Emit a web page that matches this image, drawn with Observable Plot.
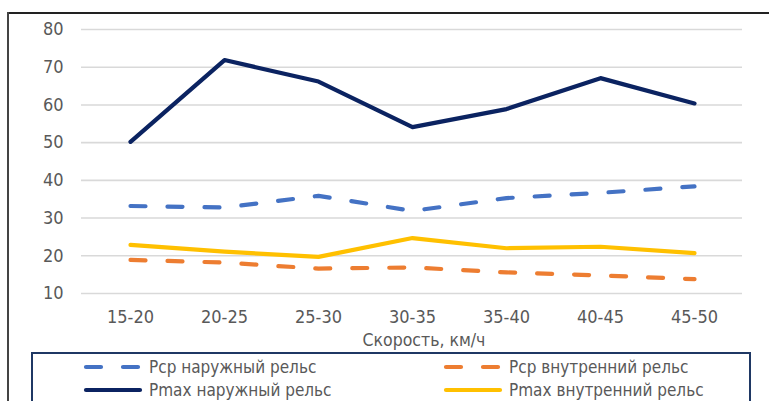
<!DOCTYPE html>
<html><head><meta charset="utf-8">
<script src="https://cdn.jsdelivr.net/npm/d3@7"></script>
<script src="https://cdn.jsdelivr.net/npm/@observablehq/plot@0.6"></script>
<style>
html,body{margin:0;padding:0;background:#fff;}
#wrap{position:relative;width:769px;height:401px;overflow:hidden;font-family:"Liberation Sans Narrow","DejaVu Sans Condensed",Roboto,sans-serif;color:#595959;}
#chart{position:absolute;left:0;top:0;}
.frameT{position:absolute;left:8px;top:12px;width:761px;height:2px;background:#222;}
.frameL{position:absolute;left:7px;top:12px;width:2px;height:389px;background:#444;}
#legend{position:absolute;left:31px;top:352px;width:720px;height:60px;border:2px solid #1f3864;box-sizing:border-box;}
.item{position:absolute;display:flex;align-items:center;font-size:17px;color:#595959;white-space:nowrap;height:20px;}
.item svg{margin-right:6px;}
</style></head>
<body><div id="wrap">
<div id="chart"></div>
<div class="frameT"></div><div class="frameL"></div>
<div id="legend"></div>
</div>
<script>
const categories = ["15-20","20-25","25-30","30-35","35-40","40-45","45-50"];
const pcpOuter = [33.2, 32.8, 35.9, 31.9, 35.3, 36.7, 38.4];
const pcpInner = [18.9, 18.2, 16.6, 16.9, 15.6, 14.8, 13.8];
const pmaxOuter = [50.2, 71.9, 66.2, 54.1, 58.9, 67.1, 60.4];
const pmaxInner = [22.9, 21.1, 19.7, 24.7, 22.0, 22.4, 20.7];
const yTicks = [10,20,30,40,50,60,70,80];
const seriesNames = ["Рср наружный рельс","Рср внутренний рельс","Pmax наружный рельс","Pmax внутренний рельс"];
const seriesColors = ["#4472c4","#ed7d31","#0b2361","#ffc000"];
const seriesDash = ["15,22","15,22",null,null];
const seriesValues = [pcpOuter, pcpInner, pmaxOuter, pmaxInner];
const xTitle = "Скорость, км/ч";

const FONT = '"Liberation Sans Narrow","DejaVu Sans Condensed",Roboto,sans-serif';
const rows = (vals) => categories.map((c,i)=>({cat:c, v:vals[i]}));
const drawOrder = [2,0,3,1];
const lines = drawOrder.map(k => Plot.line(rows(seriesValues[k]), {
  x:"cat", y:"v", stroke: seriesColors[k], strokeWidth: 4.2,
  strokeDasharray: seriesDash[k] || undefined, strokeLinecap: "round", strokeLinejoin:"round"
}));

const plot = Plot.plot({
  width: 769, height: 352,
  marginLeft: 81, marginRight: 27, marginTop: 29, marginBottom: 59,
  style: {fontFamily: FONT, fontSize: "18px", color:"#595959", background:"transparent"},
  x: {type:"point", domain: categories, padding: 0.5},
  y: {domain:[10,80]},
  marks: [
    Plot.ruleY(yTicks, {stroke:"#d9d9d9", strokeWidth:1.6}),
    Plot.axisY({ticks: yTicks, tickSize:0, tickPadding:18, label:null, fill:"#595959", fontSize:18}),
    Plot.axisX({tickSize:0, tickPadding:17, label:null, fill:"#595959", fontSize:18}),
    Plot.text([xTitle], {frameAnchor:"bottom", dy:52, dx:12, fontSize:17.5, fill:"#595959", text: d=>d}),
    ...lines
  ]
});
document.getElementById("chart").appendChild(plot);

const legend = document.getElementById("legend");
const pos = [[50,3],[410,3],[50,26],[410,26]];
[0,1,2,3].forEach((k,i)=>{
  const d = document.createElement("div");
  d.className="item";
  d.style.left = pos[i][0]+"px"; d.style.top = pos[i][1]+"px";
  const dash = seriesDash[k] ? 'stroke-dasharray="15,22" ' : '';
  d.innerHTML = `<svg width="60" height="10"><line x1="3" y1="5" x2="57" y2="5" stroke="${seriesColors[k]}" stroke-width="4.2" stroke-linecap="round" ${dash}/></svg><span>${seriesNames[k]}</span>`;
  legend.appendChild(d);
});
</script>
</body></html>
